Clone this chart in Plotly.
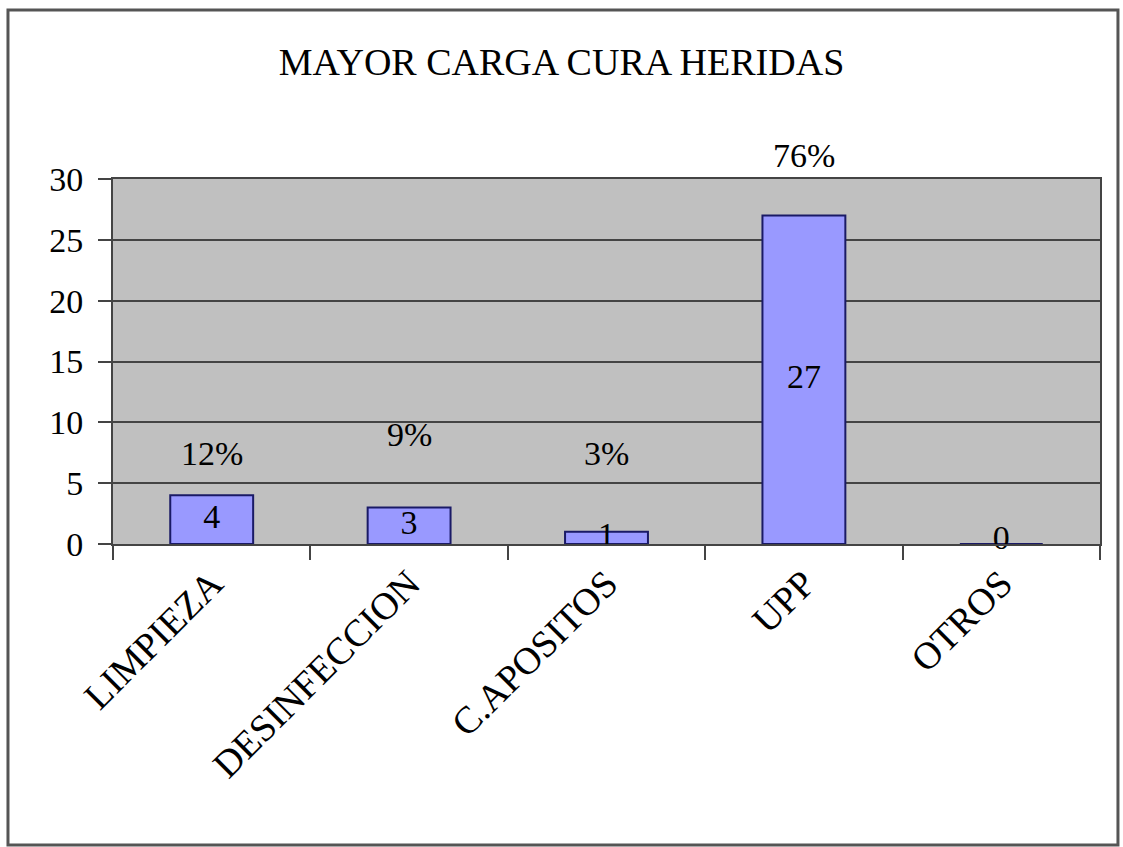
import plotly.graph_objects as go

categories = ["LIMPIEZA", "DESINFECCION", "C.APOSITOS", "UPP", "OTROS"]
values = [4, 3, 1, 27, 0]
pct_labels = ["12%", "9%", "3%", "76%"]
pct_y = [7.4, 9.0, 7.4, 31.9]
yticks = [0, 5, 10, 15, 20, 25, 30]
Y_MAX = 30

FONT = "Liberation Serif"

fig = go.Figure()
fig.add_trace(go.Bar(
    x=categories, y=values,
    marker=dict(color="#9999FF", line=dict(color="#1a1a66", width=2)),
    width=0.42, hoverinfo="skip",
))
# value labels inside bars
fig.add_trace(go.Scatter(
    x=categories, y=[max(v / 2, 0.3) for v in values],
    text=[str(v) for v in values], mode="text",
    textfont=dict(family=FONT, size=34, color="black"),
    cliponaxis=False, hoverinfo="skip",
))

# percentage labels (some sit above the plot area)
annotations = []
for c, p, py in zip(categories, pct_labels, pct_y):
    annotations.append(dict(x=c, xref="x", y=py / Y_MAX, yref="paper", text=p,
                            showarrow=False, yanchor="middle",
                            font=dict(family=FONT, size=34, color="black")))

fig.update_layout(
    width=1123, height=847,
    margin=dict(l=113, r=23, t=179, b=303),
    paper_bgcolor="white",
    plot_bgcolor="#C0C0C0",
    showlegend=False,
    annotations=annotations,
    title=dict(text="MAYOR CARGA CURA HERIDAS", x=0.5, xanchor="center",
               y=1 - 62 / 847, yanchor="middle",
               font=dict(family=FONT, size=38, color="black")),
    xaxis=dict(
        tickangle=-45, tickfont=dict(family=FONT, size=38, color="black"),
        showline=True, linecolor="#444", linewidth=2, mirror=True,
        tickson="boundaries", ticks="outside", ticklen=14, tickcolor="#444", tickwidth=2,
        showgrid=False,
    ),
    yaxis=dict(
        range=[0, Y_MAX], tickvals=yticks,
        tickfont=dict(family=FONT, size=34, color="black"),
        showline=True, linecolor="#444", linewidth=2, mirror=True,
        ticks="outside", ticklen=13, tickcolor="#444", tickwidth=2,
        ticklabelstandoff=8,
        showgrid=True, gridcolor="#444", gridwidth=2, zeroline=False,
    ),
    shapes=[dict(type="rect", xref="paper", yref="paper",
                 x0=-0.1064, x1=1.0182, y0=-0.8247, y1=1.463,
                 line=dict(color="#555", width=3), fillcolor="rgba(0,0,0,0)", layer="above")],
)

fig.write_html("out.html", config={"displayModeBar": False},
               post_script="document.body.style.margin='0';document.body.style.overflow='hidden';")
